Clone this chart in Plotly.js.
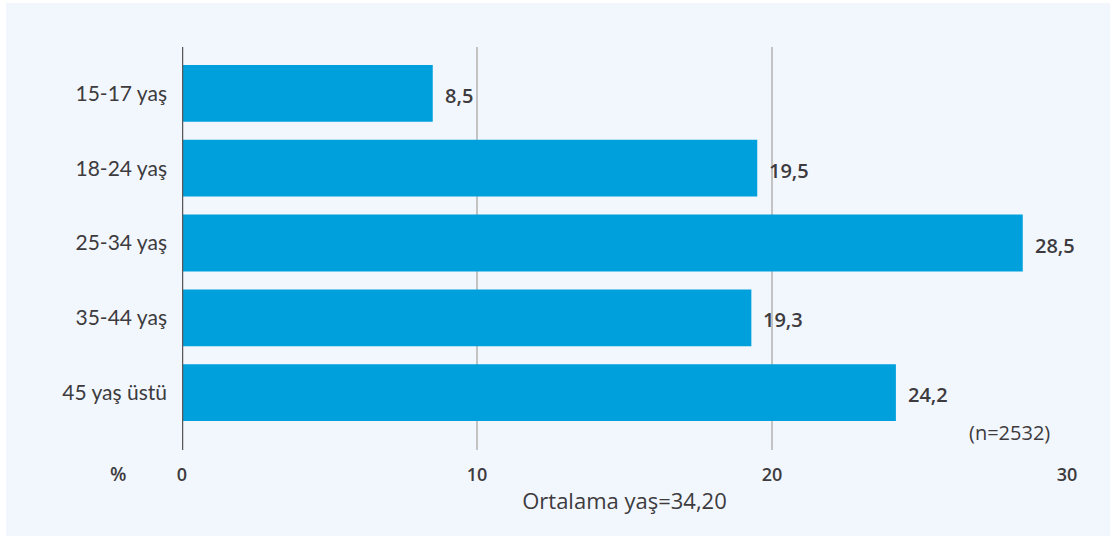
<!DOCTYPE html>
<html><head><meta charset="utf-8">
<script src="https://cdn.plot.ly/plotly-3.0.1.min.js"></script>
<style>
html,body{margin:0;padding:0;background:#ffffff;width:1110px;height:536px;overflow:hidden;}
#chart{position:absolute;left:6px;top:3px;width:1104px;height:533px;}
</style></head>
<body><div id="chart"></div>
<script>
const categories = ["15-17 yaş", "18-24 yaş", "25-34 yaş", "35-44 yaş", "45 yaş üstü"];
const values = [8.5, 19.5, 28.5, 19.3, 24.2];
const tickValues = [0, 10, 20, 30];
const tickLabels = ["0", "10", "20", "30"];

const textColor = "#3d3b3e";
const fmt = v => v.toFixed(1).replace('.', ',');

const trace = {
  type: 'bar', orientation: 'h',
  x: values, y: categories,
  marker: {color: '#00A0DC'},
  hoverinfo: 'none'
};

const annotations = values.map((v, i) => ({
  x: v, y: categories[i], xref: 'x', yref: 'y',
  text: fmt(v), showarrow: false, xanchor: 'left', yanchor: 'middle',
  xshift: 10, yshift: -2,
  font: {family: 'Open Sans', size: 20, color: textColor, weight: 600}
}));
annotations.push({
  xref: 'paper', yref: 'paper', x: -0.072, y: 0, yshift: -24,
  text: '%', showarrow: false, xanchor: 'center', yanchor: 'middle',
  font: {family: 'Open Sans', size: 19, color: textColor, weight: 600}
});
annotations.push({
  xref: 'x', yref: 'paper', x: 29.49, y: 0, yshift: 18,
  text: '(n=2532)', showarrow: false, xanchor: 'right', yanchor: 'middle',
  font: {family: 'Open Sans', size: 20, color: textColor}
});

const layout = {
  width: 1104, height: 533,
  margin: {l: 176, r: 43, t: 44, b: 86},
  paper_bgcolor: '#F2F7FD', plot_bgcolor: 'rgba(0,0,0,0)',
  showlegend: false,
  bargap: 0.24,
  xaxis: {
    range: [0, 30], tickvals: tickValues, ticktext: tickLabels,
    showgrid: true, gridcolor: '#c3c3c3', gridwidth: 1.5,
    zeroline: false, showline: false, ticks: '',
    tickfont: {family: 'Open Sans', size: 18, color: textColor, weight: 600},
    ticklabelstandoff: 12,
    title: {text: 'Ortalama yaş=34,20', standoff: 8,
            font: {family: 'Open Sans', size: 22, color: textColor}},
    fixedrange: true
  },
  yaxis: {
    type: 'category', range: [4.767, -0.62],
    showgrid: false, zeroline: false, showline: false, ticks: '',
    tickfont: {family: 'Lato', size: 21, color: textColor},
    ticklabelstandoff: 14,
    fixedrange: true
  },
  shapes: [{
    type: 'line', xref: 'x', yref: 'paper', x0: 0, x1: 0, y0: 0, y1: 1,
    line: {color: '#58585a', width: 2.5}
  }],
  annotations: annotations
};

Plotly.newPlot('chart', [trace], layout, {displayModeBar: false, staticPlot: true});
</script></body></html>
